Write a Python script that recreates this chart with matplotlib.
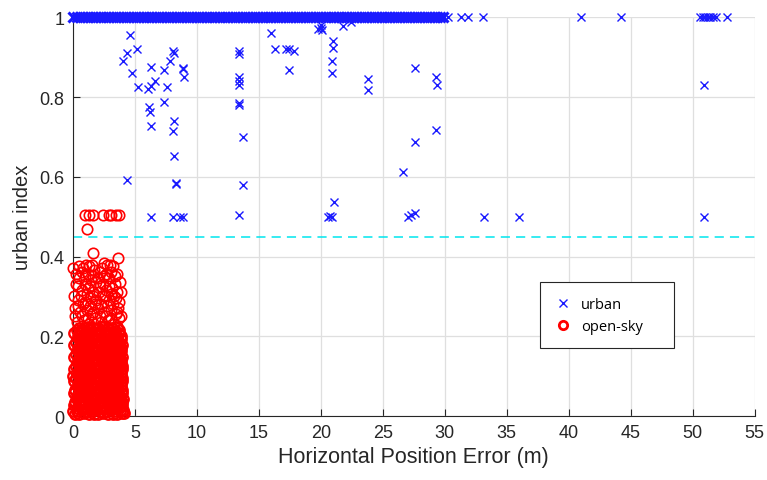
import numpy as np
import matplotlib.pyplot as plt
from matplotlib.lines import Line2D

plt.rcParams['font.family'] = ['Liberation Sans', 'DejaVu Sans']

# urban: dense row at index 1
urban_top_x = [0.02, 0.3, 0.55, 0.82, 1.1, 1.35, 1.62, 1.9, 2.15, 2.42, 2.7, 2.95, 3.22, 3.5,
               3.75, 4.02, 4.3, 4.55, 4.82, 5.1, 5.35, 5.62, 5.9, 6.15, 6.42, 6.7, 6.95, 7.22,
               7.5, 7.75, 8.02, 8.3, 8.55, 8.82, 9.1, 9.35, 9.62, 9.9, 10.15, 10.42, 10.7, 10.95,
               11.22, 11.5, 11.75, 12.02, 12.3, 12.55, 12.82, 13.1, 13.35, 13.62, 13.9, 14.15,
               14.42, 14.7, 14.95, 15.22, 15.5, 15.75, 16.02, 16.3, 16.55, 16.82, 17.1, 17.35,
               17.62, 17.9, 18.15, 18.42, 18.7, 18.95, 19.22, 19.5, 19.75, 20.02, 20.3, 20.55,
               20.82, 21.1, 21.35, 21.62, 21.9, 22.15, 22.42, 22.7, 22.95, 23.22, 23.5, 23.75,
               24.02, 24.3, 24.55, 24.82, 25.1, 25.35, 25.62, 25.9, 26.15, 26.42, 26.7, 26.95,
               27.22, 27.5, 27.75, 28.02, 28.3, 28.55, 28.82, 29.1, 29.35, 29.62, 29.85]
urban_top_sparse_x = [30.27, 31.3, 31.88, 33.1, 41.0, 44.25, 50.6, 50.8, 51.0, 51.2, 51.4,
                      51.6, 51.9, 52.8]

# urban: scattered points below the top row
urban_x = [4.6, 4.33, 5.19, 4.06, 4.81, 5.27, 6.29, 6.07, 6.34, 6.6, 7.34, 7.6, 7.82, 8.09,
           8.12, 8.9, 8.95, 8.85, 7.34, 6.16, 6.21, 6.29, 8.15, 8.09, 8.15, 8.28, 8.33, 13.7,
           13.73, 4.33, 13.39, 13.42, 13.39, 13.41, 13.38, 13.39, 13.42, 15.97, 16.3, 17.23,
           17.42, 17.85, 17.42, 6.29, 8.09, 8.63, 8.85, 13.39, 19.8, 20.0, 20.05, 20.1, 21.8,
           22.47, 21.0, 21.02, 20.9, 20.9, 23.8, 23.8, 27.58, 29.3, 29.35, 50.9, 29.3, 27.58,
           26.6, 21.07, 20.6, 20.75, 20.9, 27.0, 27.3, 27.58, 33.17, 35.97, 50.89]
urban_y = [0.955, 0.91, 0.92, 0.89, 0.86, 0.824, 0.876, 0.82, 0.827, 0.84, 0.868, 0.824, 0.89,
           0.916, 0.91, 0.874, 0.849, 0.87, 0.787, 0.774, 0.763, 0.728, 0.741, 0.714, 0.653,
           0.582, 0.585, 0.70, 0.58, 0.593, 0.916, 0.908, 0.85, 0.84, 0.83, 0.785, 0.78, 0.96,
           0.92, 0.92, 0.92, 0.916, 0.867, 0.50, 0.50, 0.50, 0.50, 0.505, 0.97, 0.98, 0.974,
           0.968, 0.978, 0.987, 0.94, 0.924, 0.89, 0.86, 0.845, 0.817, 0.874, 0.85, 0.83, 0.83,
           0.717, 0.688, 0.613, 0.538, 0.50, 0.502, 0.50, 0.50, 0.505, 0.51, 0.50, 0.50, 0.50]

# open-sky points, dense part (y < 0.23)
open_x = [0.15, 0.52, 0.9, 1.3, 1.68, 2.05, 2.45, 2.83, 3.2, 3.6, 3.95, 4.15,
          0.33, 0.72, 1.1, 1.5, 1.88, 2.27, 2.65, 3.04, 3.42, 3.8,
          0.18, 0.55, 0.95, 1.32, 1.7, 2.1, 2.48, 2.86, 3.25, 3.63, 3.98,
          0.36, 0.75, 1.12, 1.52, 1.9, 2.3, 2.68, 3.06, 3.45, 3.82,
          0.2, 0.58, 0.97, 1.35, 1.73, 2.12, 2.5, 2.9, 3.28, 3.66, 3.97,
          0.38, 0.76, 1.15, 1.54, 1.92, 2.31, 2.7, 3.08, 3.47, 3.85,
          0.03, 0.22, 0.6, 0.99, 1.37, 1.75, 2.14, 2.52, 2.91, 3.3, 3.68, 3.96,
          0.4, 0.78, 1.17, 1.55, 1.94, 2.33, 2.72, 3.1, 3.49, 3.86,
          0.24, 0.62, 1.0, 1.39, 1.77, 2.16, 2.55, 2.93, 3.32, 3.7, 3.95,
          0.42, 0.8, 1.19, 1.57, 1.96, 2.35, 2.73, 3.12, 3.5, 3.88,
          0.26, 0.64, 1.02, 1.41, 1.8, 2.18, 2.57, 2.95, 3.34, 3.72,
          0.44, 0.82, 1.2, 1.6, 1.98, 2.37, 2.75, 3.14, 3.52, 3.9,
          0.28, 0.66, 1.04, 1.43, 1.82, 2.2, 2.59, 2.97, 3.36, 3.74,
          0.45, 0.84, 1.22, 1.62, 2.0, 2.39, 2.77, 3.16, 3.55, 3.88,
          0.3, 0.68, 1.06, 1.45, 1.84, 2.22, 2.61, 3.0, 3.38, 3.76,
          0.05, 0.35, 0.74, 1.12, 1.5, 1.87, 2.26, 2.64, 3.02, 3.4, 3.78, 4.05,
          0.12, 0.53, 0.92, 1.3, 1.69, 2.08, 2.46, 2.84, 3.22, 3.61, 3.99,
          0.37, 0.76, 1.14, 1.53, 1.91, 2.29, 2.67, 3.05, 3.43, 3.84, 4.08,
          0.1, 0.55, 0.94, 1.33, 1.71, 2.09, 2.48, 2.87, 3.25, 3.63, 4.0,
          0.39, 0.78, 1.16, 1.55, 1.93, 2.32, 2.7, 3.08, 3.46, 3.86,
          0.08, 0.57, 0.96, 1.34, 1.72, 2.11, 2.5, 2.89, 3.27, 3.65, 3.99,
          0.41, 0.8, 1.18, 1.56, 1.95, 2.34, 2.72, 3.11, 3.48, 3.85,
          0.12, 0.6, 0.98, 1.36, 1.74, 2.13, 2.52, 2.9, 3.29, 3.67, 3.98,
          0.43, 0.82, 1.2, 1.58, 1.97, 2.36, 2.74, 3.13, 3.51, 3.9,
          0.09, 0.62, 1.0, 1.38, 1.76, 2.15, 2.54, 2.92, 3.31, 3.69, 3.96,
          0.45, 0.84, 1.22, 1.6, 1.99, 2.38, 2.76, 3.15, 3.53, 3.92,
          0.1, 0.64, 1.02, 1.4, 1.78, 2.17, 2.56, 2.94, 3.33, 3.71, 3.97,
          0.47, 0.86, 1.24, 1.62, 2.01, 2.4, 2.78, 3.17, 3.55, 3.9,
          0.12, 0.66, 1.04, 1.42, 1.8, 2.19, 2.58, 2.96, 3.35, 3.73,
          0.49, 0.88, 1.26, 1.64, 2.03, 2.42, 2.8, 3.19, 3.57]
open_y = [0.006, 0.004, 0.007, 0.005, 0.006, 0.004, 0.007, 0.005, 0.006, 0.004, 0.007, 0.008,
          0.02, 0.022, 0.019, 0.021, 0.02, 0.023, 0.019, 0.021, 0.02, 0.022,
          0.035, 0.034, 0.036, 0.035, 0.033, 0.036, 0.035, 0.034, 0.036, 0.035, 0.034,
          0.05, 0.051, 0.049, 0.05, 0.052, 0.049, 0.051, 0.05, 0.049, 0.051,
          0.065, 0.066, 0.064, 0.065, 0.067, 0.064, 0.066, 0.065, 0.064, 0.066, 0.065,
          0.08, 0.081, 0.079, 0.08, 0.082, 0.079, 0.081, 0.08, 0.079, 0.081,
          0.1, 0.095, 0.096, 0.094, 0.095, 0.097, 0.094, 0.096, 0.095, 0.094, 0.096, 0.095,
          0.11, 0.111, 0.109, 0.11, 0.112, 0.109, 0.111, 0.11, 0.109, 0.111,
          0.125, 0.126, 0.124, 0.125, 0.127, 0.124, 0.126, 0.125, 0.124, 0.126, 0.125,
          0.14, 0.141, 0.139, 0.14, 0.142, 0.139, 0.141, 0.14, 0.139, 0.141,
          0.155, 0.156, 0.154, 0.155, 0.157, 0.154, 0.156, 0.155, 0.154, 0.156,
          0.17, 0.171, 0.169, 0.17, 0.172, 0.169, 0.171, 0.17, 0.169, 0.171,
          0.185, 0.186, 0.184, 0.185, 0.187, 0.184, 0.186, 0.185, 0.184, 0.186,
          0.2, 0.201, 0.199, 0.2, 0.202, 0.199, 0.201, 0.2, 0.199, 0.201,
          0.215, 0.216, 0.214, 0.215, 0.217, 0.214, 0.216, 0.215, 0.214, 0.216,
          0.013, 0.012, 0.014, 0.013, 0.012, 0.014, 0.013, 0.012, 0.014, 0.013, 0.012, 0.014,
          0.028, 0.027, 0.029, 0.028, 0.027, 0.029, 0.028, 0.027, 0.029, 0.028, 0.027,
          0.043, 0.042, 0.044, 0.043, 0.042, 0.044, 0.043, 0.042, 0.044, 0.043, 0.042,
          0.058, 0.057, 0.059, 0.058, 0.057, 0.059, 0.058, 0.057, 0.059, 0.058, 0.057,
          0.073, 0.072, 0.074, 0.073, 0.072, 0.074, 0.073, 0.072, 0.074, 0.073,
          0.088, 0.087, 0.089, 0.088, 0.087, 0.089, 0.088, 0.087, 0.089, 0.088, 0.087,
          0.103, 0.102, 0.104, 0.103, 0.102, 0.104, 0.103, 0.102, 0.104, 0.103,
          0.118, 0.117, 0.119, 0.118, 0.117, 0.119, 0.118, 0.117, 0.119, 0.118, 0.117,
          0.133, 0.132, 0.134, 0.133, 0.132, 0.134, 0.133, 0.132, 0.134, 0.133,
          0.148, 0.147, 0.149, 0.148, 0.147, 0.149, 0.148, 0.147, 0.149, 0.148, 0.147,
          0.163, 0.162, 0.164, 0.163, 0.162, 0.164, 0.163, 0.162, 0.164, 0.163,
          0.178, 0.177, 0.179, 0.178, 0.177, 0.179, 0.178, 0.177, 0.179, 0.178, 0.177,
          0.193, 0.192, 0.194, 0.193, 0.192, 0.194, 0.193, 0.192, 0.194, 0.193,
          0.208, 0.207, 0.209, 0.208, 0.207, 0.209, 0.208, 0.207, 0.209, 0.208,
          0.222, 0.221, 0.223, 0.222, 0.221, 0.223, 0.222, 0.221, 0.223]

# open-sky points, sparser upper part and the few near 0.5
open_top_x = [0.35, 0.9, 1.3, 1.75, 2.3, 2.8, 3.3, 3.7,
              0.6, 1.1, 1.55, 2.05, 2.55, 3.05, 3.5, 0.15,
              0.4, 0.95, 1.4, 1.9, 2.4, 2.9, 3.35, 3.75,
              0.7, 1.2, 1.65, 2.15, 2.65, 3.15, 3.6, 0.25,
              0.5, 1.0, 1.45, 2.0, 2.5, 2.95, 3.4, 3.8,
              0.85, 1.3, 1.7, 2.35, 2.75, 3.2, 0.02, 1.59, 3.65, 1.05,
              0.2, 0.75, 1.2, 1.65, 2.15, 2.65, 3.1, 3.55, 3.9,
              0.45, 0.85, 1.35, 1.8, 2.25, 2.75, 3.2, 3.65,
              0.1, 0.65, 1.15, 1.6, 2.1, 2.6, 3.05, 3.5, 3.9,
              0.45, 0.95, 1.4, 1.9, 2.4, 2.9, 3.4,
              0.25, 0.75, 1.2, 1.65, 2.2, 2.65, 3.1, 3.55,
              0.5, 1.55, 2.55, 3.0,
              0.97, 1.3, 1.65, 2.4, 2.9, 3.1, 3.5, 3.75, 1.1]
open_top_y = [0.235, 0.24, 0.23, 0.245, 0.235, 0.24, 0.23, 0.245,
              0.26, 0.265, 0.255, 0.27, 0.26, 0.265, 0.255, 0.27,
              0.29, 0.285, 0.295, 0.29, 0.3, 0.29, 0.3, 0.285,
              0.315, 0.32, 0.31, 0.325, 0.315, 0.32, 0.31, 0.33,
              0.345, 0.35, 0.34, 0.345, 0.35, 0.345, 0.35, 0.335,
              0.37, 0.375, 0.365, 0.37, 0.38, 0.375, 0.37, 0.41, 0.397, 0.38,
              0.25, 0.25, 0.245, 0.26, 0.25, 0.25, 0.245, 0.26, 0.25,
              0.275, 0.28, 0.275, 0.28, 0.28, 0.275, 0.28, 0.27,
              0.3, 0.3, 0.305, 0.3, 0.31, 0.3, 0.305, 0.295, 0.31,
              0.325, 0.33, 0.325, 0.335, 0.33, 0.325, 0.33,
              0.355, 0.36, 0.355, 0.35, 0.36, 0.355, 0.36, 0.355,
              0.375, 0.38, 0.385, 0.38,
              0.503, 0.505, 0.503, 0.505, 0.505, 0.503, 0.505, 0.503, 0.468]

threshold = 0.45

fig = plt.figure(figsize=(7.67, 4.81), dpi=100)
ax = fig.add_axes([0.095, 0.133, 0.889, 0.829])

ax.plot(urban_top_x, [1.0] * len(urban_top_x), 'x', color='#1a1aff', ms=6.5, mew=2.2,
        clip_on=False, zorder=3)
ax.plot(urban_top_sparse_x, [1.0] * len(urban_top_sparse_x), 'x', color='#1a1aff', ms=6, mew=1,
        clip_on=False, zorder=3)
ax.plot(urban_x, urban_y, 'x', color='#1a1aff', ms=6, mew=1, clip_on=False, zorder=3)
ax.plot(open_x, open_y, 'o', mfc='none', mec='red', ms=7.5, mew=1.7,
        clip_on=False, zorder=3)
ax.plot(open_top_x, open_top_y, 'o', mfc='none', mec='red', ms=7.5, mew=1.2,
        clip_on=False, zorder=3)
ax.axhline(threshold, color='#00e5ee', ls=(0, (6, 4)), lw=1.1, zorder=2)

ax.set_xlim(0, 55)
ax.set_ylim(0, 1)
ax.set_xticks(np.arange(0, 56, 5))
ax.set_yticks([0, 0.2, 0.4, 0.6, 0.8, 1])
ax.set_yticklabels(['0', '0.2', '0.4', '0.6', '0.8', '1'])
ax.grid(True, color='#dfdfdf', lw=0.9)
ax.set_axisbelow(True)
for s in ['top', 'right']:
    ax.spines[s].set_visible(False)
for s in ['left', 'bottom']:
    ax.spines[s].set_color('#262626')
    ax.spines[s].set_linewidth(0.8)
ax.tick_params(direction='in', length=5, width=0.8, colors='#262626', labelsize=13, pad=6)
ax.set_xlabel('Horizontal Position Error (m)', fontsize=15.5, color='#262626', labelpad=3)
ax.set_ylabel('urban index', fontsize=14.5, color='#262626', labelpad=5)

handles = [Line2D([], [], ls='none', marker='x', color='#1a1aff', ms=6, mew=1),
           Line2D([], [], ls='none', marker='o', mfc='none', mec='red', ms=6, mew=2)]
leg = fig.legend(handles, ['urban', 'open-sky'], loc='lower left',
                 bbox_to_anchor=(0.704, 0.274, 0.175, 0.146), bbox_transform=fig.transFigure,
                 mode='expand', borderaxespad=0, fancybox=False, edgecolor='#262626',
                 framealpha=1, prop={'family': 'Open Sans', 'size': 10.5},
                 handletextpad=0.7, labelspacing=0.45, borderpad=1.0, handlelength=1.1)
leg.get_frame().set_linewidth(0.8)

fig.savefig('out.png', dpi=100)
